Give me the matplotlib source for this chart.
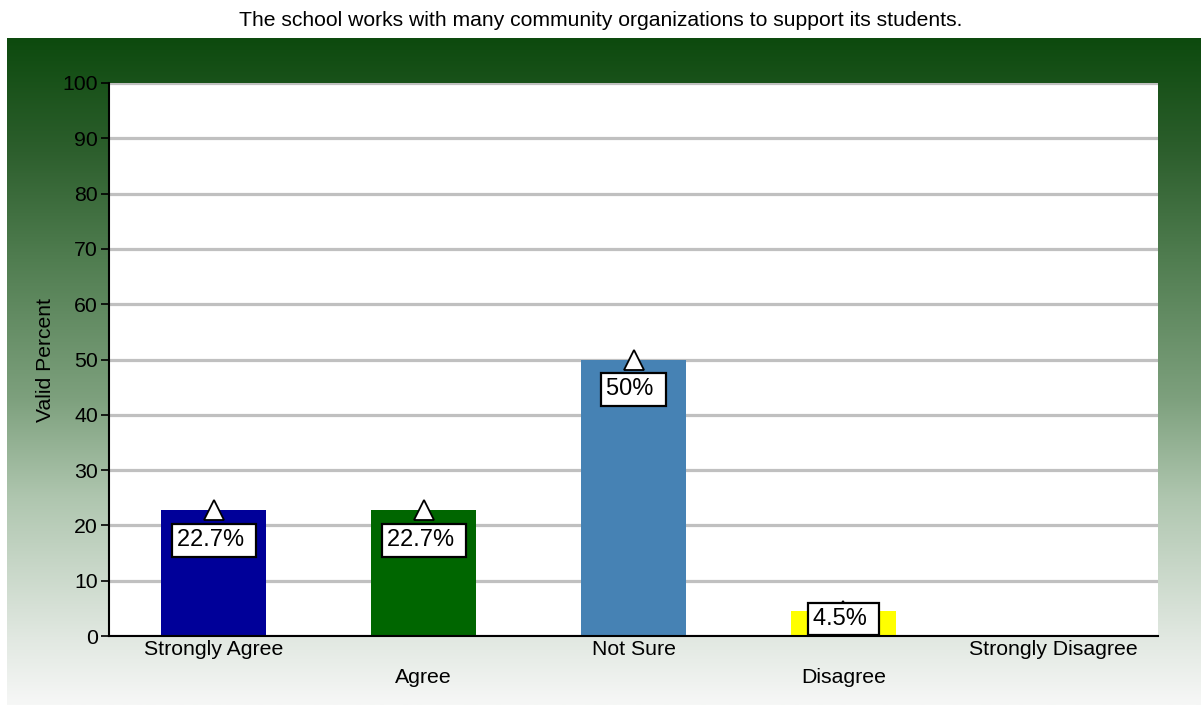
import numpy as np
import matplotlib
matplotlib.use("Agg")
import matplotlib.pyplot as plt
from matplotlib.colors import LinearSegmentedColormap
from matplotlib.transforms import ScaledTranslation

plt.rcParams['font.family'] = ['Liberation Sans', 'DejaVu Sans']

# данные
categories = ["Strongly Agree", "Agree", "Not Sure", "Disagree", "Strongly Disagree"]
values = [22.7, 22.7, 50.0, 4.5, 0.0]
labels = ["22.7%", "22.7%", "50%", "4.5%", None]
bar_colors = ["#000099", "#006600", "#4682b4", "#ffff00", "#ffffff"]
title = "The school works with many community organizations to support its students."

fig = plt.figure(figsize=(12.01, 7.05), dpi=100)

# фон с градиентом (сверху вниз)
bg = fig.add_axes([7 / 1201, 0, 1 - 7 / 1201, 667 / 705], zorder=0)
grad = LinearSegmentedColormap.from_list("g", [
    (0.0, "#0d4a0e"), (0.17, "#2d5f2d"), (0.33, "#507d50"), (0.54, "#7da07d"),
    (0.69, "#afc6af"), (0.9, "#e1e8e1"), (1.0, "#f6f7f6")])
bg.imshow(np.linspace(0, 1, 256).reshape(-1, 1), aspect="auto", cmap=grad, extent=[0, 1, 0, 1])
bg.axis("off")

fig.text(0.5, 1 - 21 / 705, title, ha="center", va="center", fontsize=15.2)

ax = fig.add_axes([109 / 1201, 69 / 705, 1049 / 1201, 553 / 705], zorder=1)
ax.set_facecolor("white")
x = np.arange(len(categories))
ax.bar(x, values, width=0.5, color=bar_colors, zorder=2)

ax.set_xlim(-0.5, len(categories) - 0.5)
ax.set_ylim(0, 100)
ax.set_yticks(range(0, 101, 10))
ax.yaxis.grid(True, color="#c0c0c0", linewidth=2.3, zorder=1)
ax.set_axisbelow(True)
for s in ["top", "right"]:
    ax.spines[s].set_visible(False)
ax.spines["left"].set_linewidth(1.5)
ax.spines["bottom"].set_linewidth(1.5)
ax.tick_params(axis="y", length=6, width=1.2, labelsize=15.3, pad=2)
ax.tick_params(axis="x", length=0, labelsize=15.3, pad=3)
ax.set_xticks(x)
ax.set_xticklabels(categories)
for i, lab in enumerate(ax.get_xticklabels()):
    if i % 2 == 1:
        lab.set_transform(lab.get_transform() + ScaledTranslation(0, -0.28, fig.dpi_scale_trans))
ax.set_ylabel("Valid Percent", fontsize=15.2, labelpad=5)

# подписи значений
for i, (v, lab) in enumerate(zip(values, labels)):
    if lab is None:
        continue
    ax.plot(i, v, marker="^", markersize=14, markerfacecolor="white",
            markeredgecolor="black", markeredgewidth=1.3, zorder=3, clip_on=False)
    ax.text(i, max(v - 5.4, 3.1), lab + " ", ha="center", va="center", fontsize=17, zorder=4,
            bbox=dict(boxstyle="square,pad=0.22", facecolor="white", edgecolor="black", linewidth=1.6))

fig.savefig("out.png", dpi=100)
